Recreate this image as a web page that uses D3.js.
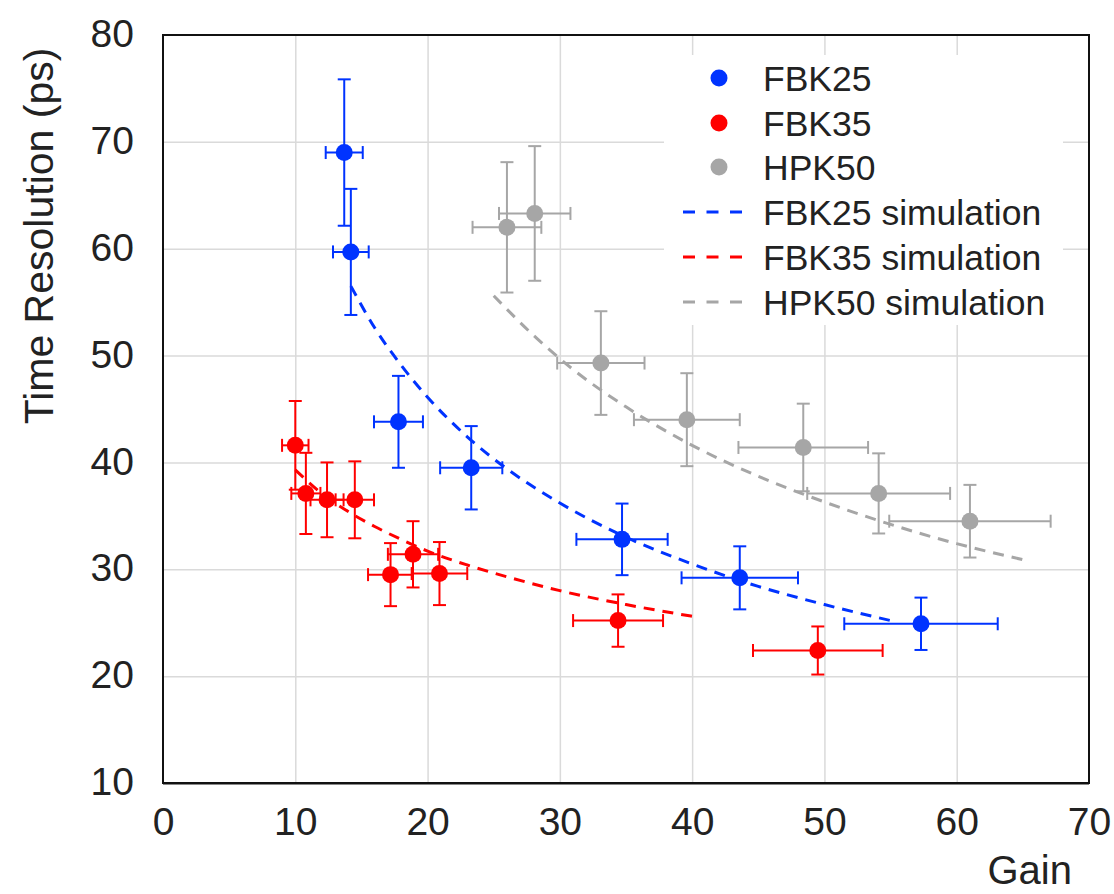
<!DOCTYPE html>
<html>
<head>
<meta charset="utf-8">
<script src="https://cdn.jsdelivr.net/npm/d3@7"></script>
<style>
  html, body { margin: 0; padding: 0; background: #fff; }
  svg { display: block; }
  text { font-family: "Liberation Sans", Arial, Helvetica, sans-serif; fill: #222; }
</style>
</head>
<body>
<svg id="chart" width="1114" height="894"></svg>
<script>
// ---- data ----
const xTicks = [0, 10, 20, 30, 40, 50, 60, 70];
const yTicks = [10, 20, 30, 40, 50, 60, 70, 80];

const fbk25Gain    = [13.7, 14.2, 17.8, 23.3, 34.7, 43.6, 57.3];
const fbk25Res     = [69.0, 59.7, 43.8, 39.5, 32.8, 29.2, 24.9];
const fbk25GainErr = [1.4, 1.35, 1.85, 2.35, 3.45, 4.4, 5.8];
const fbk25ResErr  = [6.85, 5.9, 4.3, 3.9, 3.35, 2.95, 2.45];

const fbk35Gain    = [10.0, 10.8, 12.4, 14.5, 17.2, 18.9, 20.9, 34.4, 49.5];
const fbk35Res     = [41.6, 37.1, 36.5, 36.5, 29.5, 31.4, 29.6, 25.2, 22.4];
const fbk35GainErr = [1.0, 1.1, 1.25, 1.45, 1.7, 1.9, 2.1, 3.4, 4.9];
const fbk35ResErr  = [4.15, 3.8, 3.5, 3.6, 2.95, 3.1, 2.95, 2.45, 2.25];

const hpk50Gain    = [26.0, 28.1, 33.1, 39.6, 48.4, 54.1, 61.0];
const hpk50Res     = [62.0, 63.3, 49.3, 44.0, 41.4, 37.1, 34.5];
const hpk50GainErr = [2.6, 2.7, 3.3, 4.0, 4.9, 5.4, 6.1];
const hpk50ResErr  = [6.1, 6.3, 4.85, 4.35, 4.1, 3.75, 3.4];

const fbk25SimGain = [14.2, 16, 18, 20, 23, 26, 30, 35, 40, 45, 50, 55];
const fbk25SimRes  = [56.5, 52.6, 49.1, 46.1, 42.4, 39.4, 36.2, 33.0, 30.5, 28.4, 26.7, 25.2];

const fbk35SimGain = [10, 12, 14, 16, 18, 20, 23, 26, 30, 35, 40];
const fbk35SimRes  = [39.3, 37.1, 35.4, 34.0, 32.8, 31.7, 30.4, 29.3, 28.0, 26.7, 25.6];

const hpk50SimGain = [25, 28, 31, 35, 40, 45, 50, 55, 60, 65];
const hpk50SimRes  = [55.6, 51.9, 48.7, 45.2, 41.6, 38.7, 36.3, 34.2, 32.4, 30.9];

const seriesNames = ["FBK25", "FBK35", "HPK50"];
const simNames = ["FBK25 simulation", "FBK35 simulation", "HPK50 simulation"];

// ---- styling ----
const colors = { FBK25: "#0033ff", FBK35: "#ff0000", HPK50: "#a6a6a6" };

const svg = d3.select("#chart");
const L = 163, R = 1089, T = 35, B = 783;

const x = d3.scaleLinear().domain([0, 70]).range([L, R]);
const y = d3.scaleLinear().domain([10, 80]).range([B, T]);

// gridlines
const gridX = svg.append("g").attr("transform", `translate(0,${B})`)
  .call(d3.axisBottom(x).tickValues(xTicks.slice(1, -1)).tickSize(-(B - T)).tickFormat(""));
gridX.select(".domain").remove();
gridX.selectAll("line").attr("stroke", "#dadada").attr("stroke-width", 1.5);

const gridY = svg.append("g").attr("transform", `translate(${L},0)`)
  .call(d3.axisLeft(y).tickValues(yTicks.slice(1, -1)).tickSize(-(R - L)).tickFormat(""));
gridY.select(".domain").remove();
gridY.selectAll("line").attr("stroke", "#dadada").attr("stroke-width", 1.5);

// legend background (covers the grid)
svg.append("rect").attr("x", 664).attr("y", 55).attr("width", 399).attr("height", 270).attr("fill", "#fff");

// axis tick labels
const axX = svg.append("g").attr("transform", `translate(0,${B})`)
  .call(d3.axisBottom(x).tickValues(xTicks).tickSize(0).tickPadding(0));
axX.select(".domain").remove();
axX.selectAll("text").attr("font-size", 39).attr("dy", 0).attr("y", 52)
  .style("font-family", '"Liberation Sans", Arial, sans-serif').attr("fill", "#222");

const axY = svg.append("g").attr("transform", `translate(${L},0)`)
  .call(d3.axisLeft(y).tickValues(yTicks).tickSize(0).tickPadding(0));
axY.select(".domain").remove();
axY.selectAll("text").attr("font-size", 39).attr("x", -29).attr("dy", "0.3em")
  .style("font-family", '"Liberation Sans", Arial, sans-serif').attr("fill", "#222");

// axis titles
svg.append("text").attr("x", 1072).attr("y", 884).attr("text-anchor", "end")
  .attr("font-size", 40).text("Gain");
svg.append("text").attr("transform", "translate(53,236) rotate(-90)").attr("text-anchor", "middle")
  .attr("font-size", 41).text("Time Resolution (ps)");

// simulation curves
const line = d3.line().x(d => x(d[0])).y(d => y(d[1])).curve(d3.curveMonotoneX);
const sims = [
  { name: "FBK25", g: fbk25SimGain, r: fbk25SimRes },
  { name: "FBK35", g: fbk35SimGain, r: fbk35SimRes },
  { name: "HPK50", g: hpk50SimGain, r: hpk50SimRes },
];
sims.forEach(s => {
  svg.append("path").datum(s.g.map((g, i) => [g, s.r[i]]))
    .attr("d", line).attr("fill", "none").attr("stroke", colors[s.name])
    .attr("stroke-width", 3).attr("stroke-dasharray", "11,8");
});

// data with error bars
const series = [
  { name: "HPK50", g: hpk50Gain, r: hpk50Res, ge: hpk50GainErr, re: hpk50ResErr },
  { name: "FBK35", g: fbk35Gain, r: fbk35Res, ge: fbk35GainErr, re: fbk35ResErr },
  { name: "FBK25", g: fbk25Gain, r: fbk25Res, ge: fbk25GainErr, re: fbk25ResErr },
];
const cap = 6.5;
series.forEach(s => {
  const c = colors[s.name];
  const pts = s.g.map((g, i) => ({ g, r: s.r[i], ge: s.ge[i], re: s.re[i] }));
  const grp = svg.append("g").attr("stroke", c).attr("stroke-width", 2).attr("fill", "none");
  pts.forEach(p => {
    const cx = x(p.g), cy = y(p.r);
    const x0 = x(p.g - p.ge), x1 = x(p.g + p.ge);
    const y0 = y(p.r - p.re), y1 = y(p.r + p.re);
    grp.append("line").attr("x1", x0).attr("x2", x1).attr("y1", cy).attr("y2", cy);
    grp.append("line").attr("x1", x0).attr("x2", x0).attr("y1", cy - cap).attr("y2", cy + cap);
    grp.append("line").attr("x1", x1).attr("x2", x1).attr("y1", cy - cap).attr("y2", cy + cap);
    grp.append("line").attr("x1", cx).attr("x2", cx).attr("y1", y0).attr("y2", y1);
    grp.append("line").attr("x1", cx - cap).attr("x2", cx + cap).attr("y1", y0).attr("y2", y0);
    grp.append("line").attr("x1", cx - cap).attr("x2", cx + cap).attr("y1", y1).attr("y2", y1);
  });
  svg.append("g").selectAll("circle").data(pts).join("circle")
    .attr("cx", d => x(d.g)).attr("cy", d => y(d.r)).attr("r", 8.5).attr("fill", c);
});

// legend
const legRows = [78, 123, 167, 212, 257, 302];
seriesNames.forEach((n, i) => {
  svg.append("circle").attr("cx", 719).attr("cy", legRows[i]).attr("r", 8.5).attr("fill", colors[n]);
  svg.append("text").attr("x", 763).attr("y", legRows[i]).attr("dy", "0.36em")
    .attr("font-size", 35.5).text(n);
});
simNames.forEach((n, i) => {
  const key = seriesNames[i];
  svg.append("line").attr("x1", 683).attr("x2", 746).attr("y1", legRows[i + 3]).attr("y2", legRows[i + 3])
    .attr("stroke", colors[key]).attr("stroke-width", 3).attr("stroke-dasharray", "12,11.5");
  svg.append("text").attr("x", 763).attr("y", legRows[i + 3]).attr("dy", "0.36em")
    .attr("font-size", 35.5).text(n);
});

// frame
svg.append("rect").attr("x", L).attr("y", T).attr("width", R - L).attr("height", B - T)
  .attr("fill", "none").attr("stroke", "#111").attr("stroke-width", 2);
svg.append("line").attr("x1", L).attr("x2", R).attr("y1", B + 1.5).attr("y2", B + 1.5)
  .attr("stroke", "#888").attr("stroke-width", 1);
</script>
</body>
</html>
